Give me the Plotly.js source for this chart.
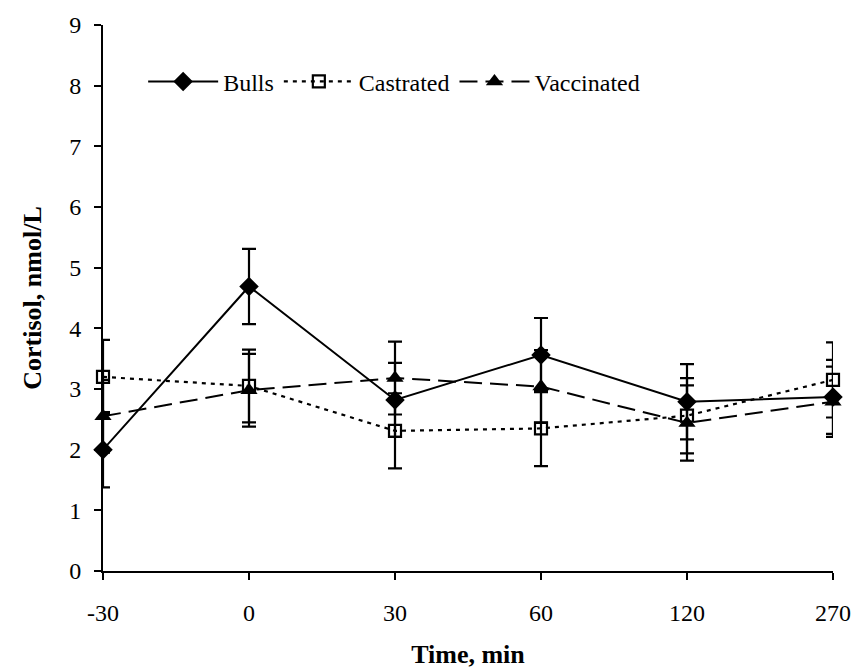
<!DOCTYPE html>
<html>
<head>
<meta charset="utf-8">
<script src="https://cdn.plot.ly/plotly-3.0.1.min.js"></script>
<style>html,body{margin:0;padding:0;background:#fff;}#chart{width:856px;height:671px;}</style>
</head>
<body>
<div id="chart"></div>
<script>
var timeLabels = ["-30", "0", "30", "60", "120", "270"];
var bulls = [2.00, 4.69, 2.82, 3.56, 2.79, 2.87];
var bullsErr = [0.62, 0.62, 0.61, 0.61, 0.62, 0.61];
var castrated = [3.20, 3.05, 2.31, 2.35, 2.56, 3.15];
var castratedErr = [0.61, 0.60, 0.62, 0.62, 0.62, 0.62];
var vaccinated = [2.55, 2.98, 3.18, 3.04, 2.44, 2.79];
var vaccinatedErr = [0.60, 0.60, 0.60, 0.60, 0.62, 0.58];

function errCfg(arr) {
  return {type: 'data', array: arr, visible: true, color: '#000', thickness: 2.2, width: 7};
}

var traces = [
  {x: timeLabels, y: bulls, name: 'Bulls', type: 'scatter', mode: 'lines+markers',
   line: {color: '#000', width: 2, dash: 'solid'},
   marker: {symbol: 'diamond', size: 15, color: '#000'},
   error_y: errCfg(bullsErr), cliponaxis: false},
  {x: timeLabels, y: castrated, name: 'Castrated', type: 'scatter', mode: 'lines+markers',
   line: {color: '#000', width: 2.2, dash: '4px,5px'},
   marker: {symbol: 'square-open', size: 12, color: '#000', line: {width: 2.2, color: '#000'}},
   error_y: errCfg(castratedErr), cliponaxis: false},
  {x: timeLabels, y: vaccinated, name: 'Vaccinated', type: 'scatter', mode: 'lines+markers',
   line: {color: '#000', width: 2, dash: '18px,8px'},
   marker: {symbol: 'triangle-up', size: 15, color: '#000'},
   error_y: errCfg(vaccinatedErr), cliponaxis: false}
];

var font = {family: '"Liberation Serif", "Times New Roman", serif', size: 24, color: '#000'};

var layout = {
  width: 856, height: 671,
  margin: {l: 103, r: 23, t: 25, b: 100},
  paper_bgcolor: '#fff', plot_bgcolor: '#fff',
  font: font,
  showlegend: true,
  legend: {orientation: 'h', x: 0.055, y: 0.896, xanchor: 'left', yanchor: 'middle',
           font: {family: font.family, size: 24, color: '#000'}, itemwidth: 70,
           bgcolor: 'rgba(0,0,0,0)', tracegroupgap: 0, itemclick: false},
  xaxis: {
    type: 'category', range: [0, 5], showgrid: false, zeroline: false,
    showline: true, linecolor: '#000', linewidth: 2,
    ticks: 'outside', ticklen: 7, tickwidth: 2, tickcolor: '#000',
    ticklabelstandoff: 12,
    tickfont: {family: font.family, size: 24, color: '#000'},
    title: {text: '<b>Time, min</b>', font: {family: font.family, size: 26, color: '#000'}, standoff: 20}
  },
  yaxis: {
    range: [0, 9], dtick: 1, showgrid: false, zeroline: false,
    showline: true, linecolor: '#000', linewidth: 2,
    ticks: 'outside', ticklen: 7, tickwidth: 2, tickcolor: '#000',
    ticklabelstandoff: 8,
    tickfont: {family: font.family, size: 24, color: '#000'},
    title: {text: '<b>Cortisol, nmol/L</b>', font: {family: font.family, size: 26, color: '#000'}, standoff: 20}
  }
};

Plotly.newPlot('chart', traces, layout, {displayModeBar: false, staticPlot: true});
</script>
</body>
</html>
